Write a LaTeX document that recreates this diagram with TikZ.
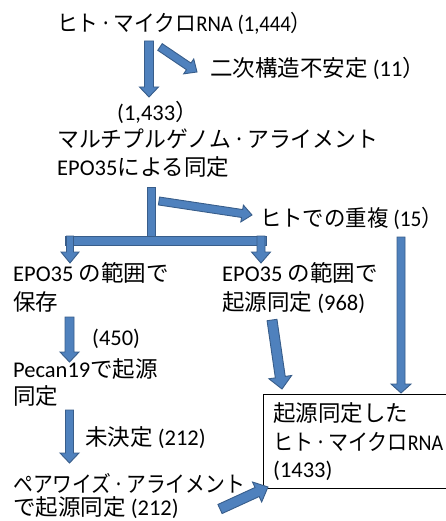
\documentclass[tikz,border=0pt]{standalone}
\usepackage{fontspec}
\setmainfont{Noto Sans CJK JP}
\newfontfamily\lat{Carlito}
\usetikzlibrary{calc}
\definecolor{arrfill}{RGB}{79,129,189}
\definecolor{arrline}{RGB}{56,93,138}
\tikzset{
  blockarrow/.style={fill=arrfill, draw=arrline, line width=0.9pt, line join=miter},
  lbl/.style={anchor=base west, inner sep=0pt, font=\fontsize{22.5}{26}\selectfont},
  boxstyle/.style={draw=black, line width=0.9pt, fill=white, anchor=north west, inner sep=0pt, minimum width=190pt, minimum height=94pt},
}
\newcommand\dt{\hspace{2pt}·\hspace{2pt}}
\newcommand\sx[2]{\scalebox{#1}[1]{#2}}
% start, end, shaft half width, head half width, head length
\newcommand\blk[5]{%
  \coordinate (#1#2h) at ($(#2)!#5!(#1)$);
  \draw[blockarrow] ($(#1)!#3!90:(#2)$) -- ($(#1#2h)!#3!90:(#2)$) -- ($(#1#2h)!#4!90:(#2)$) -- (#2) -- ($(#1#2h)!#4!-90:(#2)$) -- ($(#1#2h)!#3!-90:(#2)$) -- ($(#1)!#3!-90:(#2)$) -- cycle;
}
\begin{document}
\begin{tikzpicture}[x=1pt,y=-1pt]
\useasboundingbox (0,0) rectangle (446,521);
% texts
\node[lbl] (t1) at (57,32) {\sx{0.92}{ヒト\dt マイクロ{\lat RNA (1,444}）}};
\node[lbl] (t2) at (210,77) {二次構造不安定{\lat\ (11}）};
\node[lbl] (t3) at (117,121) {{\lat (1,433}）};
\node[lbl] (t4) at (57,148) {\sx{0.97}{マルチプルゲノム\dt アライメント}};
\node[lbl] (t5) at (57,176) {{\lat EPO35}による同定};
\node[lbl] (t6) at (260,226) {\sx{0.95}{ヒトでの重複{\lat\ (15}）}};
\node[lbl] (t7) at (13,281) {{\lat EPO35} の範囲で};
\node[lbl] (t8) at (13,310) {保存};
\node[lbl] (t9) at (222,281) {{\lat EPO35} の範囲で};
\node[lbl] (t10) at (222,310) {起源同定{\lat\ (968)}};
\node[lbl] (t11) at (92,345) {{\lat (450)}};
\node[lbl] (t12) at (13,377) {{\lat Pecan19}で起源};
\node[lbl] (t13) at (13,404) {同定};
\node[lbl] (t14) at (85,445) {未決定{\lat\ (212)}};
\node[lbl] (t15) at (13,492) {\sx{0.88}{ペアワイズ\dt アライメント}};
\node[lbl] (t16) at (13,515) {で起源同定{\lat\ (212)}};
% result box
\node[boxstyle] (box) at (263,394) {};
\node[lbl] (b1) at (273,421) {起源同定した};
\node[lbl] (b2) at (273,450) {\sx{0.89}{ヒト\dt マイクロ{\lat RNA}}};
\node[lbl] (b3) at (273,477) {{\lat (1433)}};
% arrow end points
\coordinate (a1s) at (149,41);  \coordinate (a1e) at (149,97);
\coordinate (a2s) at (160,47);  \coordinate (a2e) at (197,72);
\coordinate (a3s) at (159,201); \coordinate (a3e) at (252,215);
\coordinate (l1s) at (70,236);  \coordinate (l1e) at (70,263);
\coordinate (r1s) at (261,236); \coordinate (r1e) at (261,263);
\coordinate (a4s) at (272,320); \coordinate (a4e) at (282,389);
\coordinate (a5s) at (401,237); \coordinate (a5e) at (401,393);
\coordinate (a6s) at (69.5,317); \coordinate (a6e) at (69.5,362);
\coordinate (a7s) at (69.5,410); \coordinate (a7e) at (69.5,463);
\coordinate (a8s) at (220,509); \coordinate (a8e) at (268,487);
% arrows
\blk{a1s}{a1e}{4.5pt}{9.5pt}{10pt}
\blk{a2s}{a2e}{4pt}{9pt}{10pt}
\draw[blockarrow] (147,187) rectangle (155,237);
\draw[blockarrow] (65,236) rectangle (266,245);
\blk{a3s}{a3e}{4pt}{8.5pt}{10pt}
\blk{l1s}{l1e}{3.5pt}{9pt}{11pt}
\blk{r1s}{r1e}{4pt}{9.5pt}{11pt}
\blk{a4s}{a4e}{5pt}{11.5pt}{12pt}
\blk{a5s}{a5e}{4pt}{10pt}{9pt}
\blk{a6s}{a6e}{4.5pt}{9.5pt}{10pt}
\blk{a7s}{a7e}{4pt}{9.5pt}{10pt}
\blk{a8s}{a8e}{5pt}{11pt}{12pt}
\end{tikzpicture}
\end{document}
